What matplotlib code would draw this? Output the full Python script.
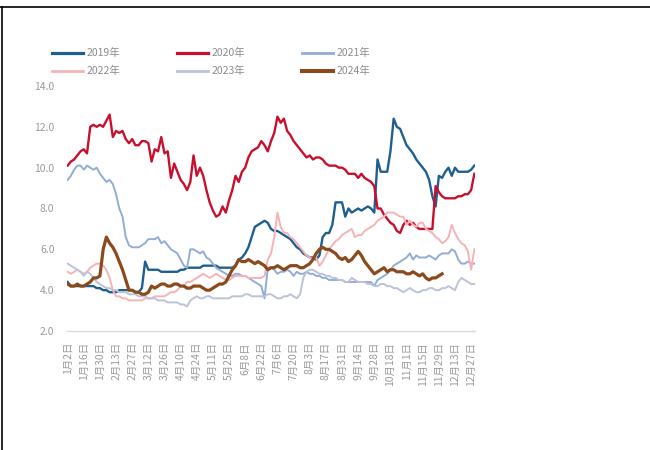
import matplotlib
matplotlib.use("Agg")
import matplotlib.pyplot as plt
from matplotlib.lines import Line2D
import numpy as np

plt.rcParams['font.family'] = ['Noto Sans CJK SC', 'DejaVu Sans']

tick_labels = ["1月2日", "1月16日", "1月30日", "2月13日", "2月27日", "3月12日", "3月26日",
               "4月10日", "4月24日", "5月11日", "5月25日", "6月8日", "6月22日", "7月6日",
               "7月20日", "8月3日", "8月17日", "8月31日", "9月14日", "9月28日", "10月18日",
               "11月1日", "11月15日", "11月29日", "12月13日", "12月27日"]
tick_every = 5

y2019 = [4.4, 4.2, 4.2, 4.2, 4.2, 4.2, 4.2, 4.2, 4.2, 4.1, 4.1, 4.0, 4.0, 3.9, 3.9, 3.9, 4.0, 4.0, 4.0, 4.0,
         4.0, 3.9, 3.9, 4.1, 5.4, 5.0, 5.0, 5.0, 5.0, 4.9, 4.9, 4.9, 4.9, 4.9, 4.9, 5.0, 5.0, 5.1, 5.1, 5.1,
         5.1, 5.1, 5.2, 5.2, 5.2, 5.2, 5.2, 5.1, 5.1, 5.1, 5.1, 5.1, 5.2, 5.5, 5.6, 5.8, 6.1, 6.6, 7.1, 7.2,
         7.3, 7.4, 7.3, 7.0, 6.9, 6.9, 6.8, 6.7, 6.6, 6.5, 6.3, 6.1, 6.0, 5.8, 5.7, 5.6, 5.6, 5.5, 5.7, 6.6,
         6.8, 6.8, 7.2, 8.3, 8.3, 8.3, 7.6, 8.0, 7.8, 7.9, 8.0, 7.9, 8.0, 8.1, 8.0, 7.8, 10.4, 9.8, 9.8, 9.8,
         10.8, 12.4, 12.0, 11.9, 11.5, 11.1, 10.9, 10.7, 10.4, 10.2, 10.0, 9.8, 9.4, 8.6, 8.1, 9.6, 9.5, 9.8,
         10.0, 9.6, 10.0, 9.8, 9.8, 9.8, 9.8, 9.9, 10.1]

y2020 = [10.1, 10.3, 10.4, 10.6, 10.8, 10.9, 10.7, 12.0, 12.1, 12.0, 12.1, 12.0, 12.3, 12.6, 11.5, 11.8,
         11.7, 11.8, 11.4, 11.2, 11.4, 11.1, 11.1, 11.3, 11.3, 11.2, 10.3, 10.9, 10.8, 11.5, 10.7, 10.8,
         9.5, 10.2, 9.8, 9.4, 9.2, 8.9, 9.3, 10.6, 9.6, 10.0, 9.6, 8.9, 8.3, 7.9, 7.6, 7.7, 8.1, 7.8,
         8.4, 8.9, 9.6, 9.3, 9.8, 10.0, 10.5, 10.8, 10.9, 11.0, 11.3, 11.1, 10.8, 11.3, 11.7, 12.5, 12.2,
         12.4, 11.8, 11.6, 11.3, 11.1, 10.9, 10.7, 10.5, 10.6, 10.4, 10.5, 10.5, 10.4, 10.2, 10.1, 10.1,
         10.1, 10.0, 10.0, 9.9, 9.7, 9.7, 9.7, 9.5, 9.7, 9.5, 9.4, 9.3, 9.1, 8.0, 8.0, 7.7, 7.5, 7.3, 7.2,
         6.9, 6.8, 7.2, 7.4, 7.2, 7.3, 7.1, 7.0, 7.0, 7.0, 7.0, 7.0, 9.1, 8.8, 8.6, 8.5, 8.5, 8.5, 8.5,
         8.6, 8.6, 8.7, 8.7, 8.9, 9.7]

y2021 = [9.4, 9.6, 9.9, 10.1, 10.1, 9.9, 10.1, 10.0, 9.9, 10.0, 9.7, 9.5, 9.3, 9.4, 9.2, 8.7, 8.0, 7.6,
         6.6, 6.2, 6.1, 6.1, 6.1, 6.2, 6.3, 6.5, 6.5, 6.5, 6.6, 6.3, 6.4, 6.2, 6.0, 5.9, 5.8, 5.5, 5.2, 5.1,
         6.0, 6.0, 5.9, 5.8, 5.9, 5.6, 5.5, 5.3, 5.1, 5.0, 4.9, 4.8, 4.7, 4.7, 4.8, 4.8, 4.7, 4.7, 4.6, 4.5,
         4.4, 4.3, 4.2, 3.6, 5.1, 5.1, 5.0, 4.8, 4.9, 4.9, 5.0, 4.9, 4.7, 4.9, 4.8, 4.8, 4.9, 4.8, 4.8, 4.7,
         4.7, 4.6, 4.6, 4.5, 4.5, 4.5, 4.5, 4.5, 4.4, 4.4, 4.4, 4.4, 4.4, 4.4, 4.4, 4.4, 4.4, 4.2, 4.5, 4.6,
         4.7, 4.8, 5.0, 5.2, 5.3, 5.4, 5.5, 5.6, 5.8, 5.5, 5.7, 5.6, 5.6, 5.6, 5.7, 5.6, 5.5, 5.7, 5.8, 5.8,
         5.8, 6.0, 5.9, 5.5, 5.3, 5.3, 5.4, 5.3, 5.3]

y2022 = [4.9, 4.8, 4.9, 5.0, 4.9, 4.8, 4.9, 5.1, 5.2, 5.3, 5.3, 5.2, 5.0, 4.6, 4.0, 3.7, 3.7, 3.6, 3.6,
         3.5, 3.5, 3.5, 3.5, 3.5, 3.6, 3.6, 3.6, 3.7, 3.7, 3.7, 3.7, 3.8, 3.9, 3.9, 4.0, 4.2, 4.2, 4.4, 4.4,
         4.5, 4.6, 4.7, 4.8, 4.7, 4.6, 4.7, 4.8, 4.7, 4.6, 4.5, 4.5, 4.6, 4.7, 4.7, 4.7, 4.7, 4.6, 4.6, 4.6,
         4.6, 4.6, 4.7, 5.5, 5.8, 6.6, 7.8, 7.1, 6.8, 6.8, 6.6, 6.5, 6.3, 6.1, 5.9, 5.7, 5.6, 5.5, 5.6, 5.2,
         5.4, 5.7, 6.0, 6.2, 6.4, 6.5, 6.7, 6.8, 6.9, 7.0, 6.6, 6.7, 6.7, 6.9, 7.0, 7.1, 7.2, 7.4, 7.5, 7.6,
         7.8, 7.8, 7.8, 7.7, 7.6, 7.6, 7.2, 7.4, 7.2, 7.1, 7.3, 7.3, 7.0, 6.9, 6.8, 6.6, 6.5, 6.3, 6.4, 6.6,
         7.2, 6.8, 6.5, 6.3, 6.2, 5.9, 5.0, 6.0]

y2023 = [5.3, 5.2, 5.1, 5.0, 4.9, 4.7, 4.9, 4.8, 4.6, 4.4, 4.3, 4.2, 4.1, 4.1, 4.0, 4.0, 3.9, 3.9, 3.9,
         3.8, 3.8, 3.8, 3.7, 3.7, 3.7, 3.6, 3.6, 3.6, 3.5, 3.5, 3.5, 3.4, 3.4, 3.4, 3.4, 3.3, 3.3, 3.2, 3.5,
         3.6, 3.7, 3.6, 3.6, 3.7, 3.7, 3.6, 3.6, 3.6, 3.6, 3.6, 3.6, 3.7, 3.7, 3.7, 3.7, 3.8, 3.8, 3.7, 3.7,
         3.7, 3.7, 3.7, 3.8, 3.8, 3.7, 3.6, 3.6, 3.7, 3.7, 3.8, 3.7, 3.6, 3.8, 4.6, 4.9, 5.0, 5.0, 4.9, 4.8,
         4.8, 4.7, 4.7, 4.6, 4.6, 4.5, 4.5, 4.4, 4.4, 4.6, 4.5, 4.4, 4.4, 4.4, 4.3, 4.3, 4.2, 4.2, 4.3, 4.3,
         4.2, 4.2, 4.1, 4.1, 4.0, 3.9, 4.0, 4.1, 4.0, 3.9, 3.9, 4.0, 4.0, 4.1, 4.1, 4.0, 4.0, 4.1, 4.1, 4.2,
         4.1, 4.0, 4.4, 4.6, 4.5, 4.4, 4.3, 4.3]

y2024 = [4.3, 4.2, 4.2, 4.3, 4.2, 4.2, 4.3, 4.4, 4.6, 4.6, 4.7, 6.0, 6.6, 6.3, 6.1, 5.8, 5.4, 5.0, 4.5,
         4.0, 4.0, 3.9, 3.9, 3.8, 3.8, 3.9, 4.2, 4.1, 4.2, 4.3, 4.3, 4.2, 4.2, 4.3, 4.3, 4.2, 4.2, 4.1, 4.1,
         4.2, 4.2, 4.2, 4.1, 4.0, 4.0, 4.1, 4.2, 4.3, 4.3, 4.4, 4.7, 5.0, 5.2, 5.5, 5.4, 5.4, 5.5, 5.4, 5.3,
         5.4, 5.3, 5.2, 5.0, 5.1, 5.1, 5.2, 5.1, 5.0, 5.1, 5.2, 5.2, 5.2, 5.1, 5.1, 5.2, 5.3, 5.5, 5.8, 6.0,
         6.1, 6.0, 6.0, 5.9, 5.8, 5.6, 5.5, 5.6, 5.4, 5.5, 5.7, 5.9, 5.7, 5.4, 5.2, 5.0, 4.8, 4.9, 5.0, 5.1,
         4.9, 5.0, 5.0, 4.9, 4.9, 4.9, 4.8, 4.8, 4.9, 4.8, 4.7, 4.8, 4.6, 4.5, 4.6, 4.6, 4.7, 4.8]

series = [
    ("2019年", y2019, "#1f5f8f", 1.7),
    ("2020年", y2020, "#c8102e", 1.7),
    ("2021年", y2021, "#92acd8", 1.4),
    ("2022年", y2022, "#f5b3b5", 1.4),
    ("2023年", y2023, "#bcc2d8", 1.4),
    ("2024年", y2024, "#8b4a1c", 2.3),
]

fig = plt.figure(figsize=(6.5, 4.5), dpi=100)
fig.patch.set_facecolor("white")
ax = fig.add_axes([67/650, 1-331/450, (475-67)/650, (331-86)/450])

n_points = len(y2019)
for name, vals, color, lw in series:
    x = np.arange(len(vals))
    ax.plot(x, vals, color=color, lw=lw, label=name, solid_joinstyle="round")

ax.set_ylim(2, 14)
ax.set_xlim(-0.2, n_points - 0.8)
ax.set_yticks(np.arange(2, 14.1, 2))
ax.set_yticklabels([f"{v:.1f}" for v in np.arange(2, 14.1, 2)])
ticks = np.arange(0, len(tick_labels) * tick_every, tick_every)
ax.set_xticks(ticks)
ax.set_xticklabels(tick_labels, rotation=90)
ax.tick_params(axis="both", length=0, colors="#9a9a9a")
ax.tick_params(axis="x", pad=8, labelsize=7.5)
ax.tick_params(axis="y", pad=9, labelsize=7.5)
for s in ["top", "right", "left"]:
    ax.spines[s].set_visible(False)
ax.spines["bottom"].set_color("#d9d9d9")
ax.spines["bottom"].set_linewidth(1.0)

# legend (manual 2x3 grid)
handles = {name: (color, lw) for name, vals, color, lw in series}
order = [["2019年", "2020年", "2021年"], ["2022年", "2023年", "2024年"]]
col_x = [52, 177, 302]
row_y = [53, 71]
for r, row in enumerate(order):
    for c, name in enumerate(row):
        color, lw = handles[name]
        x0 = col_x[c] / 650
        y0 = 1 - row_y[r] / 450
        fig.add_artist(Line2D([x0, x0 + 31/650], [y0, y0], color=color, lw=lw + 0.6,
                              transform=fig.transFigure))
        fig.text(x0 + 35/650, y0, name, fontsize=7.5, color="#8c8c8c", va="center", ha="left")

# outer frame lines (top and left)
fig.add_artist(Line2D([0, 1], [1 - 7/450, 1 - 7/450], color="black", lw=1.2, transform=fig.transFigure))
fig.add_artist(Line2D([2/650, 2/650], [0, 1 - 7/450], color="black", lw=1.2, transform=fig.transFigure))

fig.savefig("out.png", dpi=100, facecolor="white")
